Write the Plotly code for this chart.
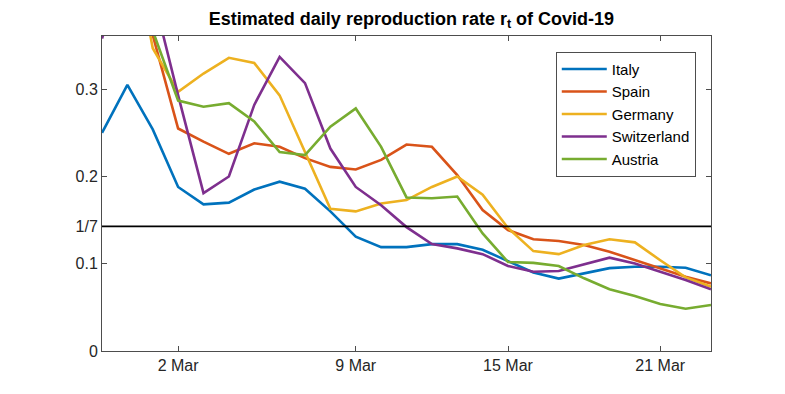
import plotly.graph_objects as go
import pandas as pd

# one estimate per day, 28 Feb .. 23 Mar 2020
dates = pd.date_range("2020-02-28", "2020-03-23", freq="D")

italy = [0.250, 0.305, 0.254, 0.188, 0.168, 0.170, 0.185, 0.194, 0.186, 0.160,
         0.131, 0.119, 0.119, 0.1225, 0.1225, 0.116, 0.103, 0.090, 0.083, 0.089,
         0.095, 0.0966, 0.0966, 0.0955, 0.0867]
spain = [0.55, 0.48, 0.362, 0.255, 0.240, 0.226, 0.238, 0.234, 0.221, 0.211,
         0.208, 0.219, 0.2366, 0.234, 0.2016, 0.1615, 0.1386, 0.128, 0.126, 0.1214,
         0.1138, 0.104, 0.0947, 0.085, 0.0775]
germany = [0.60, 0.50, 0.347, 0.297, 0.318, 0.336, 0.330, 0.293, 0.228, 0.163,
           0.160, 0.169, 0.173, 0.188, 0.200, 0.179, 0.141, 0.1145, 0.111, 0.1214,
           0.128, 0.1245, 0.104, 0.0844, 0.0737]
switzerland = [0.358, 0.45, 0.41, 0.293, 0.181, 0.200, 0.282, 0.337, 0.307, 0.232,
               0.188, 0.167, 0.142, 0.1226, 0.1176, 0.111, 0.0975, 0.0909, 0.0916, 0.0997,
               0.107, 0.1004, 0.0909, 0.0813, 0.0707]
austria = [0.50, 0.45, 0.367, 0.287, 0.280, 0.284, 0.263, 0.228, 0.2245, 0.257,
           0.278, 0.234, 0.176, 0.175, 0.177, 0.1348, 0.102, 0.101, 0.0974, 0.0833,
           0.0707, 0.063, 0.0538, 0.0485, 0.0527]

series = [
    ("Italy", italy, "#0072BD"),
    ("Spain", spain, "#D95319"),
    ("Germany", germany, "#EDB120"),
    ("Switzerland", switzerland, "#7E2F8E"),
    ("Austria", austria, "#77AC30"),
]

xtick_vals = ["2020-03-02", "2020-03-09", "2020-03-15", "2020-03-21"]
xtick_text = ["2 Mar", "9 Mar", "15 Mar", "21 Mar"]
ytick_vals = [0, 0.1, 1 / 7, 0.2, 0.3]
ytick_text = ["0", "0.1", "1/7", "0.2", "0.3"]
threshold = 1 / 7

fig = go.Figure()
for name, vals, col in series:
    fig.add_trace(go.Scatter(x=dates, y=vals, name=name, mode="lines",
                             line=dict(color=col, width=2.6)))

# threshold line at 1/7
fig.add_shape(type="line", xref="paper", yref="y", x0=0, x1=1,
              y0=threshold, y1=threshold, line=dict(color="black", width=1.6))

axis_style = dict(showline=True, linecolor="#4d4d4d", linewidth=1, mirror="allticks",
                  ticks="inside", ticklen=5, tickcolor="#4d4d4d", showgrid=False,
                  zeroline=False, tickfont=dict(family="Liberation Sans", size=16, color="#262626"))

# the page body adds an 8px offset, so margins are shifted to compensate
fig.update_layout(
    width=785, height=394,
    margin=dict(l=94, r=82, t=28, b=51),
    paper_bgcolor="white", plot_bgcolor="white",
    title=dict(text="<b>Estimated daily reproduction rate r<sub>t</sub> of Covid-19</b>",
               x=0.514, xanchor="center", y=0.99, yanchor="top",
               font=dict(family="Liberation Sans", size=18, color="black")),
    xaxis=dict(range=["2020-02-28", "2020-03-23"], tickvals=xtick_vals, ticktext=xtick_text,
               **axis_style),
    yaxis=dict(range=[0, 0.361], tickvals=ytick_vals, ticktext=ytick_text, **axis_style),
    legend=dict(x=0.975, xanchor="right", y=0.95, yanchor="top",
                bordercolor="#4d4d4d", borderwidth=1, bgcolor="white",
                font=dict(family="Liberation Sans", size=15, color="black"),
                itemwidth=45, tracegroupgap=0),
    showlegend=True,
)

fig.write_html("out.html")
